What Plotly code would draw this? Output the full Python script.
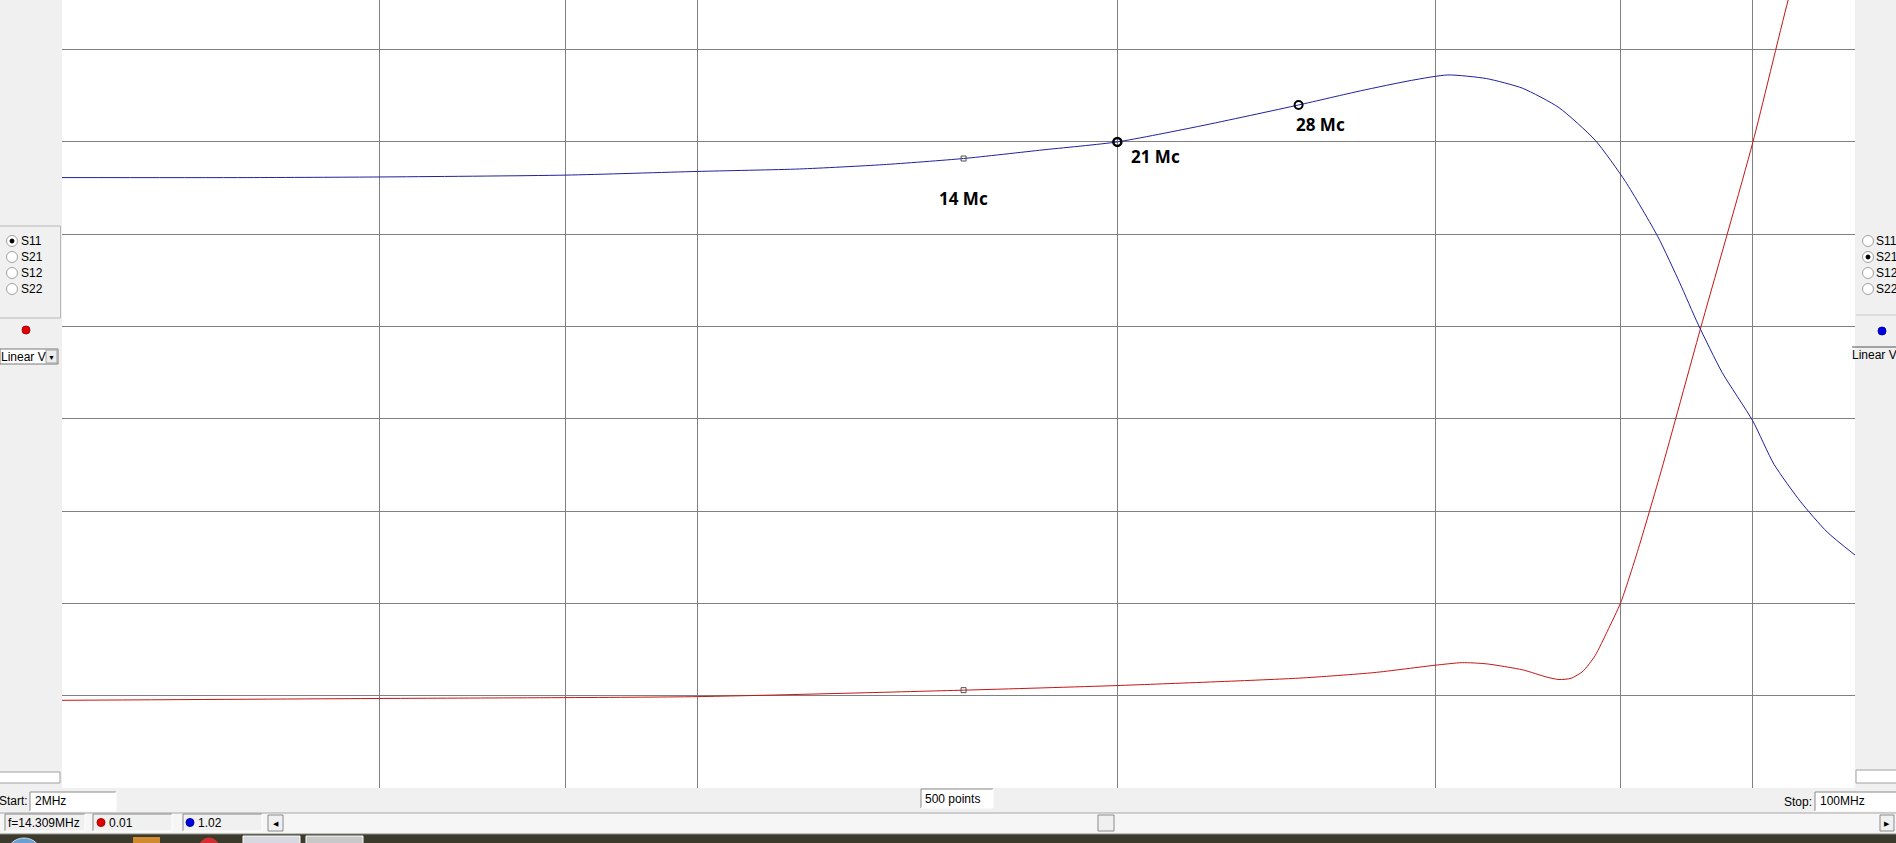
import numpy as np
import plotly.graph_objects as go

# ---------------- data ----------------
f_s21 = [2, 3, 4, 6, 8, 10, 12, 14.3, 17, 20, 24, 29.7, 34, 38, 41.13, 44.75, 48.43,
         52.42, 56.74, 60.59, 65.07, 68.23, 71.0, 74.83, 80, 83.80, 88.82, 94.11, 100]
s21 = [0.992, 0.992, 0.993, 0.996, 1.002, 1.006, 1.013, 1.023, 1.037, 1.05, 1.076,
       1.110, 1.133, 1.150, 1.1588, 1.1529, 1.1371, 1.1057, 1.0526, 0.9858, 0.8954,
       0.8208, 0.7539, 0.6753, 0.5967, 0.5260, 0.4651, 0.4159, 0.3786]

f_s11 = [2, 4, 8, 14.3, 20, 29.7, 35, 40, 42.45, 44.75, 48.43, 51.06, 52.42, 53.82,
         55.25, 56.74, 58.26, 60, 62.22, 65.59, 71.37, 80, 86.49, 100]
s11 = [0.0095, 0.0097, 0.0099, 0.0106, 0.0111, 0.0119, 0.0125, 0.0133, 0.01358,
       0.01345, 0.01280, 0.01201, 0.01175, 0.01188, 0.01266, 0.01437, 0.01699,
       0.02013, 0.02563, 0.03454, 0.04974, 0.06991, 0.08550, 0.11144]

marker_labels = ["14 Mc", "21 Mc", "28 Mc"]
marker_f = [14.3, 20.0, 29.7]
marker_s21 = [1.023, 1.05, 1.110]
marker_s11 = [0.0106]

freq_grid = [4, 6, 8, 20, 40, 60, 80]
start_label = "2MHz"
stop_label = "100MHz"
points_label = "500 points"
status_f = "f=14.309MHz"
status_s11 = "0.01"
status_s21 = "1.02"
param_names = ["S11", "S21", "S12", "S22"]

# ---------------- geometry ----------------
W, H = 1896, 843
L, R, T, B = 62, 1855, 0, 788


def px(x):
    return (x - L) / (R - L)


def py(y):
    return (B - y) / (B - T)


shapes = []
annots = []
UI_FONT = "Liberation Sans"


def rect(x0, y0, x1, y1, fill=None, line=None, lw=1):
    shapes.append(dict(type="rect", xref="paper", yref="paper",
                       x0=px(x0), x1=px(x1), y0=py(y1), y1=py(y0),
                       fillcolor=fill if fill else "rgba(0,0,0,0)",
                       line=dict(color=line if line else "rgba(0,0,0,0)", width=lw if line else 0)))


def hline(x0, x1, y, color, lw=1):
    shapes.append(dict(type="line", xref="paper", yref="paper",
                       x0=px(x0), x1=px(x1), y0=py(y), y1=py(y),
                       line=dict(color=color, width=lw)))


def vline(x, y0, y1, color, lw=1):
    shapes.append(dict(type="line", xref="paper", yref="paper",
                       x0=px(x), x1=px(x), y0=py(y0), y1=py(y1),
                       line=dict(color=color, width=lw)))


def circle(cx, cy, r, fill, line=None, lw=1):
    shapes.append(dict(type="circle", xref="paper", yref="paper",
                       x0=px(cx - r), x1=px(cx + r), y0=py(cy + r), y1=py(cy - r),
                       fillcolor=fill,
                       line=dict(color=line if line else fill, width=lw)))


def text(x, y, s, size=12, color="black", anchor="left", family=UI_FONT):
    annots.append(dict(xref="paper", yref="paper", x=px(x), y=py(y), text=s,
                       showarrow=False, xanchor=anchor, yanchor="middle",
                       font=dict(family=family, size=size, color=color)))


def sunken(x0, y0, x1, y1, fill="white"):
    rect(x0, y0, x1, y1, fill=fill)
    hline(x0, x1, y0, "#8a8a8a")
    vline(x0, y0, y1, "#8a8a8a")
    hline(x0, x1, y1, "#ffffff")
    vline(x1, y0, y1, "#ffffff")


# ---------------- left panel ----------------
rect(-1, 226, 60.5, 318, line="#b8b8b8")
row_y = [241, 257, 273, 289]
for i, (name, yy) in enumerate(zip(param_names, row_y)):
    circle(12, yy, 5.5, "white", line="#a0a0a0")
    if i == 0:
        circle(12, yy, 2, "black")
    text(19, yy, name, size=12)
circle(26, 330, 4, "#e00000", line="#b00000")
rect(0, 349, 58, 364, fill="white", line="#7a7a7a")
rect(46, 350, 57, 363, fill="#ececec", line="#a0a0a0")
text(-1, 356.5, "Linear V", size=12)
text(51.5, 357, "▼", size=7, anchor="center")

# ---------------- right panel ----------------
hline(1856, 1896, 315, "#c8c8c8")
for i, (name, yy) in enumerate(zip(param_names, row_y)):
    circle(1868, yy, 5.5, "white", line="#a0a0a0")
    if i == 1:
        circle(1868, yy, 2, "black")
    text(1874, yy, name, size=12)
circle(1882, 331, 4, "#0000e0", line="#0000b0")
hline(1852, 1896, 347, "#555555")
text(1850, 355, "Linear V", size=12)
rect(1856, 770, 1897, 783, fill="white", line="#a0a0a0")
rect(-1, 772, 60, 783, fill="white", line="#a0a0a0")

# ---------------- bottom controls ----------------
text(-3, 801, "Start:", size=12)
sunken(30, 792, 116, 811)
text(33, 801, start_label, size=12)
sunken(921, 789, 993, 808)
text(923, 798.5, points_label, size=12)
text(1782, 802, "Stop:", size=12)
sunken(1815, 792, 1897, 811)
text(1818, 801, stop_label, size=12)

rect(0, 813, 1896, 834, fill="#f6f6f6")
hline(0, 1896, 813, "#a8a8a8")
sunken(5, 814, 85, 831, fill="#f0f0f0")
text(6, 822.5, status_f, size=12)
sunken(93, 814, 172, 831, fill="#f0f0f0")
circle(101, 822.5, 4, "#e00000", line="#a00000")
text(107, 822.5, status_s11, size=12)
sunken(183, 814, 262, 831, fill="#f0f0f0")
circle(190, 822.5, 4, "#0000e0", line="#0000a0")
text(196, 822.5, status_s21, size=12)
rect(268, 815, 283, 831, fill="#f0f0f0", line="#8a8a8a")
text(275.5, 823, "◀", size=7, anchor="center")
rect(1098, 815, 1114, 831, fill="#f0f0f0", line="#8a8a8a")
rect(1880, 815, 1894, 831, fill="#f0f0f0", line="#8a8a8a")
text(1887, 823, "▶", size=7, anchor="center")

# taskbar strip
rect(0, 834, 1896, 844, fill="#3c3a2c")
hline(0, 1896, 834, "#8a8a80")
circle(24, 856, 18, "#6d9fd0", line="#c8d8e8")
rect(133, 837, 160, 844, fill="#d08a30")
circle(209, 848, 10, "#d03030")
rect(243, 836, 300, 844, fill="#d8d8e0", line="#ffffff")
rect(306, 836, 363, 844, fill="#c8c8c8", line="#ffffff")

# ---------------- traces ----------------
fig = go.Figure()
fig.add_trace(go.Scatter(x=f_s21, y=s21, mode="lines", yaxis="y2",
                         line=dict(color="#2020a0", width=1, shape="spline", smoothing=0.6),
                         hoverinfo="skip", showlegend=False))
fig.add_trace(go.Scatter(x=f_s11, y=s11, mode="lines", yaxis="y",
                         line=dict(color="#c81414", width=1, shape="spline", smoothing=0.6),
                         hoverinfo="skip", showlegend=False))
# 14 Mc cursor markers
fig.add_trace(go.Scatter(x=marker_f[:1], y=marker_s21[:1], mode="markers", yaxis="y2",
                         marker=dict(symbol="square-open", size=5, color="#505050",
                                     line=dict(width=1)),
                         hoverinfo="skip", showlegend=False))
fig.add_trace(go.Scatter(x=marker_f[:1], y=marker_s11, mode="markers", yaxis="y",
                         marker=dict(symbol="square-open", size=5, color="#505050",
                                     line=dict(width=1)),
                         hoverinfo="skip", showlegend=False))
# 21 and 28 Mc markers
fig.add_trace(go.Scatter(x=marker_f[1:2], y=marker_s21[1:2], mode="markers", yaxis="y2",
                         marker=dict(symbol="circle-open", size=8, color="black",
                                     line=dict(width=2.5)),
                         hoverinfo="skip", showlegend=False))
fig.add_trace(go.Scatter(x=marker_f[2:3], y=marker_s21[2:3], mode="markers", yaxis="y2",
                         marker=dict(symbol="circle-open", size=8, color="black",
                                     line=dict(width=2)),
                         hoverinfo="skip", showlegend=False))

label_offsets = [(0, -40, "center"), (12, -15, "left"), (-5, -20, "left")]
for lab, f, v, (dx, dy, xa) in zip(marker_labels, marker_f, marker_s21, label_offsets):
    annots.append(dict(xref="x", yref="y2", x=np.log10(f), y=v, text="<b>%s</b>" % lab,
                       showarrow=False, xanchor=xa, yanchor="middle", xshift=dx, yshift=dy,
                       font=dict(family="Noto Sans", size=17, color="black")))

fig.update_layout(
    width=W, height=H,
    margin=dict(l=L, r=W - R, t=T, b=H - B, pad=0),
    paper_bgcolor="#f0f0f0",
    plot_bgcolor="white",
    showlegend=False,
    xaxis=dict(type="log", range=[np.log10(2), np.log10(100)], tickmode="array",
               tickvals=freq_grid, showticklabels=False, ticks="",
               showgrid=True, gridcolor="#808080", gridwidth=1, zeroline=False,
               showline=False, fixedrange=True),
    yaxis=dict(range=[0, 0.08537], tick0=0, dtick=0.01, showticklabels=False, ticks="",
               showgrid=True, gridcolor="#808080", gridwidth=1, zeroline=False,
               showline=False, fixedrange=True),
    yaxis2=dict(range=[0, 1.2806], overlaying="y", side="right", showgrid=False,
                showticklabels=False, ticks="", zeroline=False, showline=False,
                fixedrange=True),
    shapes=shapes,
    annotations=annots,
)

fig.write_html("out.html", config={"displayModeBar": False, "responsive": False},
               post_script="document.body.style.margin='0';document.body.style.overflow='hidden';")
